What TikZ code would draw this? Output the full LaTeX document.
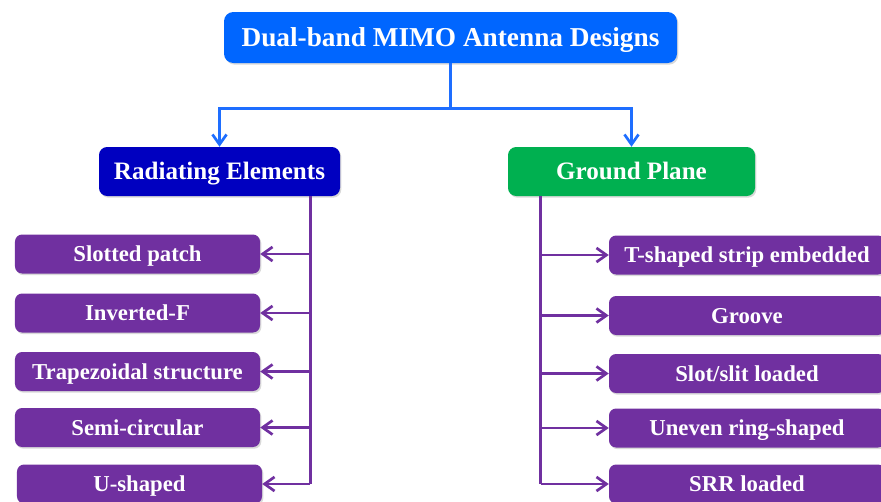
\documentclass[tikz,border=0pt]{standalone}
\usepackage{fontspec}
\setmainfont{Liberation Serif}
\usepackage{tikz}
\usetikzlibrary{arrows.meta, positioning, shadows}

\definecolor{topblue}{RGB}{0,102,255}
\definecolor{lineblue}{RGB}{30,110,255}
\definecolor{darkblue}{RGB}{0,0,192}
\definecolor{leafgreen}{RGB}{0,176,80}
\definecolor{itempurple}{RGB}{112,48,160}

\begin{document}
\begin{tikzpicture}[
    topbox/.style={
        rectangle, rounded corners=8pt,
        fill=topblue, text=white,
        minimum width=13.59cm, minimum height=1.53cm,
        text height=15.4pt, text depth=0pt,
        text centered, font=\fontsize{23.3}{28}\selectfont\bfseries,
        drop shadow={opacity=0.3, shadow xshift=0.04cm, shadow yshift=-0.05cm}
    },
    catbox/.style={
        rectangle, rounded corners=7pt,
        text=white,
        minimum width=7.3cm, minimum height=1.47cm,
        text height=14.1pt, text depth=0pt,
        text centered, font=\fontsize{21.4}{26}\selectfont\bfseries,
        drop shadow={opacity=0.3, shadow xshift=0.04cm, shadow yshift=-0.05cm}
    },
    itembox/.style={
        rectangle, rounded corners=6pt,
        fill=itempurple, text=white,
        minimum height=1.17cm,
        text height=12.8pt, text depth=0pt,
        text centered, font=\fontsize{19.4}{23}\selectfont\bfseries,
        drop shadow={opacity=0.3, shadow xshift=0.04cm, shadow yshift=-0.05cm}
    },
    blueline/.style={draw=lineblue, line width=2.3pt},
    bluearrow/.style={blueline, -{Straight Barb[length=8.5pt, width=12pt, line width=2.3pt]}},
    purpleline/.style={draw=itempurple, line width=2.3pt},
    purplearrow/.style={purpleline, -{Straight Barb[length=8.5pt, width=12pt, line width=2.3pt]}},
]
\useasboundingbox (0,0) rectangle (26.43,-15.03);

% Titolo
\node[topbox] (top) at (13.515,-1.125) {Dual-band MIMO Antenna Designs};

% Categorie
\node[catbox, fill=darkblue, minimum width=7.23cm] (rad) at (6.585,-5.145) {Radiating Elements};
\node[catbox, fill=leafgreen, minimum width=7.41cm] (gnd) at (18.945,-5.145) {Ground Plane};

% Diramazione blu
\coordinate[below=1.35cm of top.south] (split);
\draw[blueline] (top.south) -- (split);
\draw[bluearrow] (split) -| (rad.north);
\draw[bluearrow] (split) -| (gnd.north);

% Elementi radianti
\node[itembox, minimum width=7.35cm] (slotted) at (4.125,-7.62)  {Slotted patch};
\node[itembox, minimum width=7.35cm] (invf)    at (4.125,-9.39)  {Inverted-F};
\node[itembox, minimum width=7.35cm] (trap)    at (4.125,-11.145) {Trapezoidal structure};
\node[itembox, minimum width=7.35cm] (semi)    at (4.125,-12.825) {Semi-circular};
\node[itembox, minimum width=7.35cm] (ushape)  at (4.185,-14.52) {U-shaped};

% Piano di massa
\node[itembox, minimum width=8.28cm] (tstrip) at (22.41,-7.65)  {T-shaped strip embedded};
\node[itembox, minimum width=8.28cm] (groove) at (22.41,-9.465) {Groove};
\node[itembox, minimum width=8.28cm] (slot)   at (22.41,-11.205) {Slot/slit loaded};
\node[itembox, minimum width=8.28cm] (ring)   at (22.41,-12.84) {Uneven ring-shaped};
\node[itembox, minimum width=8.28cm] (srr)    at (22.41,-14.52) {SRR loaded};

% Tronco sinistro
\coordinate (radtrunk) at ([xshift=-0.9cm]rad.south east);
\draw[purpleline] (radtrunk) -- (radtrunk |- ushape);
\draw[purplearrow] (radtrunk |- slotted) -- (slotted.east);
\draw[purplearrow] (radtrunk |- invf) -- (invf.east);
\draw[purplearrow] (radtrunk |- trap) -- (trap.east);
\draw[purplearrow] (radtrunk |- semi) -- (semi.east);
\draw[purplearrow] (radtrunk |- ushape) -- (ushape.east);

% Tronco destro
\coordinate (gndtrunk) at ([xshift=0.99cm]gnd.south west);
\draw[purpleline] (gndtrunk) -- (gndtrunk |- srr);
\draw[purplearrow] (gndtrunk |- tstrip) -- (tstrip.west);
\draw[purplearrow] (gndtrunk |- groove) -- (groove.west);
\draw[purplearrow] (gndtrunk |- slot) -- (slot.west);
\draw[purplearrow] (gndtrunk |- ring) -- (ring.west);
\draw[purplearrow] (gndtrunk |- srr) -- (srr.west);

\end{tikzpicture}
\end{document}
